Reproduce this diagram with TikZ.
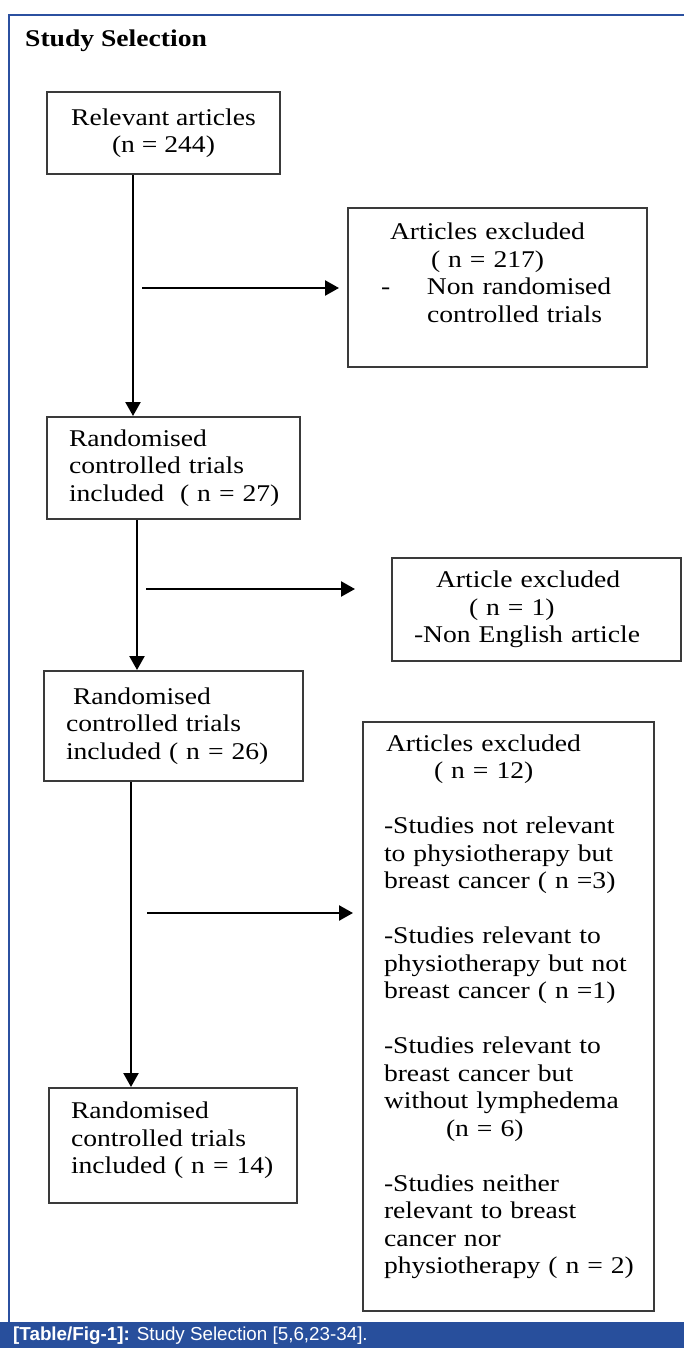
\documentclass[tikz,border=0pt]{standalone}
\usepackage{fontspec}
\setmainfont{Liberation Serif}[FakeStretch=1.15]
\newfontfamily\capfont{Liberation Sans}
\usetikzlibrary{arrows.meta}
\definecolor{frameblue}{HTML}{2B50A0}
\definecolor{bandblue}{HTML}{284F9C}
\definecolor{boxline}{HTML}{3A3A3A}
\begin{document}
\begin{tikzpicture}[x=1pt,y=-1pt,
  box/.style={draw=boxline, line width=2pt, inner ysep=0pt, anchor=north west,
              font=\fontsize{24}{27.5}\selectfont},
  lbox/.style={box, align=left},
  conn/.style={line width=2.4pt, draw=black, -{Triangle[length=14pt,width=15pt]}},
]
\useasboundingbox (0,0) rectangle (684,1348);
\fill[white] (0,0) rectangle (684,1348);
\draw[frameblue, line width=1.5pt] (9,1322) -- (9,15) -- (684,15);
\node[anchor=base west, inner sep=0pt, font=\fontsize{24}{27.5}\selectfont\bfseries] (title) at (25,47) {Study Selection};

% boxes
\node[box, align=center, minimum width=233pt, minimum height=82pt] (b1) at (46,91)
  {Relevant articles\\(n = 244)};
\node[lbox, text width=233pt, minimum width=299pt, minimum height=159pt] (e1) at (347,207)
  {\mbox{\hspace{9pt}Articles excluded}\\
   \mbox{\hspace{50pt}( n = 217)}\\
   \mbox{\makebox[46pt][l]{-}Non randomised}\\
   \mbox{\hspace{46pt}controlled trials}\rule[-30pt]{0pt}{30pt}};
\node[lbox, text width=209pt, minimum width=253pt, minimum height=102pt] (b2) at (46,416)
  {\mbox{Randomised}\\ \mbox{controlled trials}\\ \mbox{included\ \ ( n = 27)}};
\node[lbox, text width=245pt, minimum width=289pt, minimum height=103pt] (e2) at (391,557)
  {\mbox{\hspace{22pt}Article excluded}\\ \mbox{\hspace{55pt}( n = 1)}\\ \mbox{-Non English article}};
\node[lbox, text width=215pt, minimum width=259pt, minimum height=110pt] (b3) at (43,670)
  {\mbox{\hspace{7pt}Randomised}\\ \mbox{controlled trials}\\ \mbox{included ( n = 26)}};
\node[lbox, text width=204pt, minimum width=248pt, minimum height=115pt] (b4) at (48,1087)
  {\mbox{Randomised}\\ \mbox{controlled trials}\\ \mbox{included ( n = 14)}\rule[-15pt]{0pt}{15pt}};
\node[lbox, text width=249pt, minimum width=291pt, minimum height=589pt] (e3) at (362,721)
  {\mbox{\hspace{2pt}Articles excluded}\\
   \mbox{\hspace{50pt}( n = 12)}\\[27.5pt]
   \mbox{-Studies not relevant}\\
   \mbox{to physiotherapy but}\\
   \mbox{breast cancer ( n =3)}\\[27.5pt]
   \mbox{-Studies relevant to}\\
   \mbox{physiotherapy but not}\\
   \mbox{breast cancer ( n =1)}\\[27.5pt]
   \mbox{-Studies relevant to}\\
   \mbox{breast cancer but}\\
   \mbox{without lymphedema}\\
   \mbox{\hspace{62pt}(n = 6)}\\[27.5pt]
   \mbox{-Studies neither}\\
   \mbox{relevant to breast}\\
   \mbox{cancer nor}\\
   \mbox{physiotherapy ( n = 2)}\rule[-25pt]{0pt}{25pt}};

% vertical connectors
\coordinate (v1) at (133,0);
\coordinate (v2) at (137,0);
\coordinate (v3) at (131,0);
\draw[conn] (v1 |- b1.south) -- (v1 |- b2.north);
\draw[conn] (v2 |- b2.south) -- (v2 |- b3.north);
\draw[conn] (v3 |- b3.south) -- (v3 |- b4.north);

% horizontal connectors
\coordinate (h1s) at (142,288); \coordinate (h1e) at (339,288);
\coordinate (h2s) at (146,589); \coordinate (h2e) at (355,589);
\coordinate (h3s) at (147,913); \coordinate (h3e) at (353,913);
\draw[conn] (h1s) -- (h1e);
\draw[conn] (h2s) -- (h2e);
\draw[conn] (h3s) -- (h3e);

% caption band
\fill[bandblue] (0,1322) rectangle (684,1348);
\node[anchor=west, inner sep=0pt, text=white, font=\capfont\fontsize{18.8}{20}\selectfont] (cap) at (13,1335.5)
  {\textbf{[Table/Fig-1]:} Study Selection [5,6,23-34].};
\end{tikzpicture}
\end{document}
